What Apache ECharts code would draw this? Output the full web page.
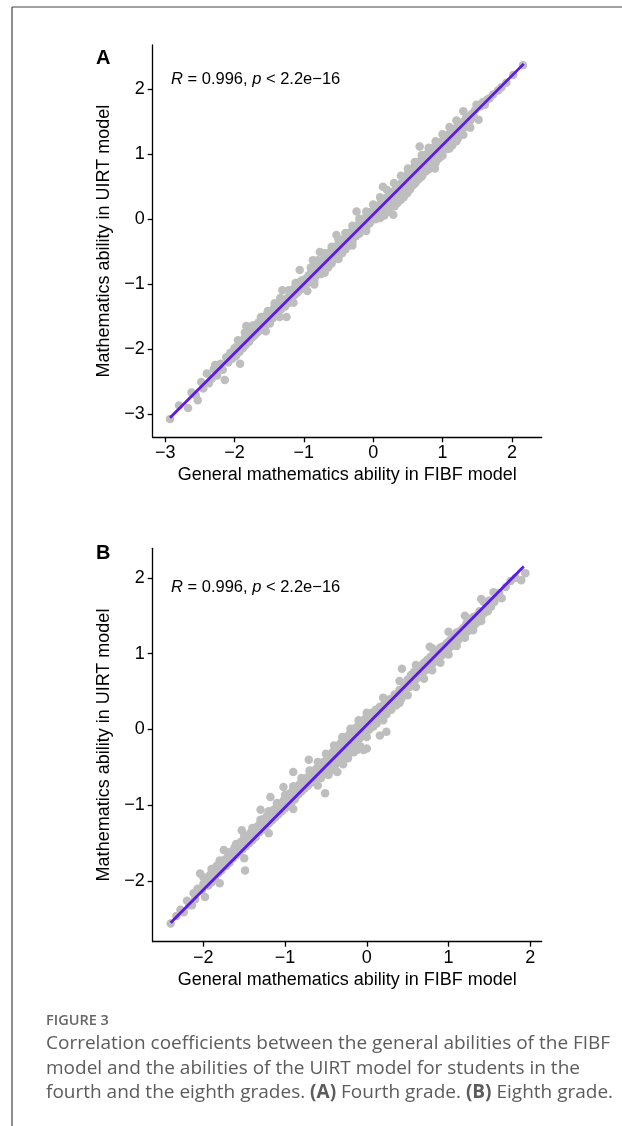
<!DOCTYPE html>
<html>
<head>
<meta charset="utf-8">
<script src="https://cdn.jsdelivr.net/npm/echarts@6/dist/echarts.min.js"></script>
<style>
html,body{margin:0;padding:0;background:#fff;}
#chart{width:622px;height:1126px;}
</style>
</head>
<body>
<div id="chart"></div>
<script>
// ---------- data ----------
const xTicksA = [-3, -2, -1, 0, 1, 2];
const yTicksA = [-3, -2, -1, 0, 1, 2];
const xTicksB = [-2, -1, 0, 1, 2];
const yTicksB = [-2, -1, 0, 1, 2];

const xTitle = 'General mathematics ability in FIBF model';
const yTitle = 'Mathematics ability in UIRT model';

// regression line end points
const fitA = [[-2.93, -3.05], [2.17, 2.39]];
const fitB = [[-2.40, -2.55], [1.92, 2.15]];

// Panel A: fourth grade (FIBF general ability, UIRT ability)
const pointsA = [
[-2.93,-3.07],[-2.80,-2.86],[-2.67,-2.90],[-2.62,-2.66],[-2.56,-2.70],[-2.53,-2.78],[-2.48,-2.50],[-2.45,-2.60],
[-2.40,-2.37],[-2.37,-2.52],[-2.33,-2.45],[-2.30,-2.30],[-2.28,-2.24],[-2.25,-2.40],[-2.20,-2.22],[-2.17,-2.31],
[-2.14,-2.47],[-2.12,-2.12],[-2.09,-2.20],[-2.06,-2.05],[-2.03,-2.14],[-2.00,-1.98],
[-1.98,-2.10],[-1.96,-1.95],[-1.93,-2.04],[-1.92,-2.22],[-1.90,-1.88],[-1.88,-1.98],[-1.86,-1.83],[-1.84,-1.93],
[-1.83,-1.64],[-1.81,-1.78],[-1.79,-1.88],[-1.77,-1.72],[-1.75,-1.82],[-1.73,-1.68],[-1.71,-1.78],[-1.69,-1.62],
[-1.67,-1.74],[-1.65,-1.58],[-1.63,-1.70],[-1.61,-1.55],[-1.59,-1.64],[-1.57,-1.50],[-1.55,-1.62],[-1.53,-1.46],
[-1.51,-1.57],[-1.49,-1.60],[-1.47,-1.42],[-1.45,-1.52],[-1.43,-1.36],[-1.41,-1.46],[-1.39,-1.33],[-1.37,-1.44],
[-1.35,-1.30],[-1.33,-1.38],[-1.31,-1.09],[-1.29,-1.24],[-1.27,-1.34],[-1.25,-1.50],[-1.23,-1.20],[-1.21,-1.28],
[-1.19,-1.12],[-1.17,-1.22],[-1.15,-1.07],[-1.13,-1.16],[-1.11,-1.03],[-1.09,-1.12],[-1.07,-0.97],[-1.06,-0.78],
[-1.05,-1.08],[-1.03,-0.94],[-1.01,-1.02],
[-0.99,-0.93],[-0.98,-1.04],[-0.96,-0.90],[-0.95,-0.98],[-0.95,-1.10],[-0.93,-0.86],[-0.92,-0.95],[-0.90,-0.82],
[-0.89,-0.92],[-0.87,-0.63],[-0.86,-0.85],[-0.85,-0.96],[-0.84,-0.76],[-0.83,-0.88],[-0.81,-0.72],[-0.80,-0.81],
[-0.78,-0.68],[-0.77,-0.50],[-0.76,-0.78],[-0.75,-0.84],[-0.74,-0.64],[-0.73,-0.74],[-0.71,-0.60],[-0.70,-0.70],
[-0.68,-0.57],[-0.67,-0.66],[-0.65,-0.52],[-0.65,-0.74],[-0.64,-0.62],[-0.62,-0.50],[-0.61,-0.59],[-0.60,-0.68],
[-0.59,-0.46],[-0.58,-0.56],[-0.56,-0.43],[-0.55,-0.53],[-0.55,-0.60],[-0.53,-0.24],[-0.52,-0.48],[-0.50,-0.38],
[-0.49,-0.46],[-0.47,-0.35],[-0.46,-0.44],[-0.45,-0.52],[-0.44,-0.32],[-0.43,-0.40],[-0.41,-0.29],[-0.40,-0.37],
[-0.40,-0.46],[-0.38,-0.26],[-0.37,-0.33],[-0.35,-0.22],[-0.35,-0.40],[-0.34,-0.30],[-0.32,-0.19],[-0.31,-0.27],
[-0.30,-0.34],[-0.29,-0.15],[-0.28,-0.24],[-0.26,-0.12],[-0.25,-0.21],[-0.25,-0.26],[-0.24,0.12],[-0.23,-0.10],
[-0.21,-0.18],[-0.20,-0.06],[-0.20,-0.22],[-0.18,-0.14],[-0.17,-0.02],[-0.15,-0.11],[-0.15,-0.15],[-0.14,0.00],
[-0.12,-0.08],[-0.11,0.03],[-0.10,-0.12],[-0.09,-0.04],[-0.08,0.06],[-0.06,-0.01],[-0.05,0.10],[-0.05,-0.06],
[-0.03,0.02],[-0.02,0.12],[0.00,0.05],
[0.02,0.14],[0.03,0.00],[0.05,0.20],[0.06,0.06],[0.08,0.15],[0.09,0.02],[0.11,0.25],[0.12,0.10],
[0.14,0.50],[0.14,0.18],[0.16,0.06],[0.17,0.28],[0.19,0.17],[0.20,0.34],[0.21,0.22],[0.23,0.12],
[0.24,0.36],[0.26,0.22],[0.27,0.42],[0.29,0.07],[0.29,0.30],[0.31,0.20],[0.32,0.45],[0.34,0.35],
[0.35,0.25],[0.37,0.52],[0.38,0.40],[0.40,0.30],[0.41,0.56],[0.43,0.44],[0.44,0.34],[0.46,0.62],
[0.47,0.50],[0.49,0.40],[0.50,0.70],[0.51,0.58],[0.53,0.46],[0.54,0.74],[0.56,0.62],[0.57,0.52],
[0.59,0.80],[0.60,0.68],[0.62,0.58],[0.63,0.84],[0.65,0.74],[0.66,0.62],[0.67,1.12],[0.68,0.90],
[0.70,0.80],[0.71,0.68],[0.73,0.96],[0.74,0.84],[0.76,0.74],[0.77,1.00],[0.79,0.90],[0.80,0.80],
[0.82,1.06],[0.83,0.94],[0.85,0.84],[0.86,1.10],[0.88,0.98],[0.89,0.78],[0.90,0.90],[0.92,1.14],
[0.93,1.02],[0.95,0.94],[0.96,1.18],[0.98,1.08],[0.99,0.98],
[1.01,1.22],[1.02,1.10],[1.04,1.28],[1.05,1.16],[1.07,1.08],[1.08,1.30],[1.10,1.20],[1.11,1.32],
[1.13,1.22],[1.14,1.14],[1.16,1.36],[1.17,1.26],[1.19,1.40],[1.20,1.30],[1.22,1.24],[1.24,1.44],
[1.25,1.36],[1.27,1.48],[1.28,1.38],[1.30,1.66],[1.30,1.50],[1.32,1.42],[1.34,1.56],[1.36,1.46],
[1.38,1.58],[1.40,1.52],[1.42,1.62],[1.45,1.58],[1.47,1.68],[1.49,1.76],[1.52,1.53],[1.55,1.74],
[1.58,1.80],[1.61,1.76],[1.64,1.84],[1.68,1.86],[1.73,1.92],[1.80,1.98],[1.85,2.03],[1.92,2.10],
[2.02,2.22],[2.16,2.37],
[-1.95,-1.86],[-1.85,-1.74],[-1.74,-1.63],[-1.62,-1.50],[-1.52,-1.41],[-1.42,-1.29],[-1.34,-1.21],[-1.22,-1.09],
[-1.12,-0.98],[-1.55,-1.72],[-1.35,-1.50],[-1.15,-1.28],
[-0.90,-0.74],[-0.80,-0.63],[-0.70,-0.52],[-0.60,-0.42],[-0.50,-0.31],[-0.40,-0.21],[-0.30,-0.10],[-0.20,0.01],
[-0.10,0.12],[0.00,0.23],[-0.85,-1.00],[-0.70,-0.82],[-0.50,-0.61],[-0.30,-0.40],[-0.10,-0.18],
[0.10,0.34],[0.20,0.45],[0.30,0.56],[0.40,0.67],[0.50,0.78],[0.60,0.88],[0.70,0.99],[0.80,1.10],
[0.90,1.20],[1.00,1.31],[1.10,1.42],[1.20,1.52],[0.10,0.02],[0.20,0.13],[0.30,0.23],[0.40,0.34],
[0.50,0.45],[0.60,0.55],[0.70,0.66],[0.80,0.77],[0.90,0.87],[1.00,0.98],[1.10,1.09],[1.20,1.20],
[1.30,1.30],[1.40,1.41]
];

// Panel B: eighth grade
const pointsB = [
[-2.40,-2.56],[-2.33,-2.46],[-2.28,-2.38],[-2.24,-2.41],[-2.20,-2.26],[-2.17,-2.32],[-2.14,-2.32],[-2.12,-2.16],
[-2.10,-2.24],[-2.07,-2.10],[-2.04,-1.90],[-2.02,-2.12],[-2.00,-2.04],[-1.98,-2.21],[-1.96,-1.98],[-1.94,-2.06],
[-1.92,-1.92],[-1.90,-2.02],[-1.88,-1.86],[-1.86,-1.96],[-1.84,-1.80],[-1.82,-1.90],[-1.80,-1.76],[-1.78,-1.86],
[-1.75,-1.59],[-1.74,-1.72],[-1.72,-1.80],[-1.70,-1.68],[-1.68,-1.76],[-1.66,-1.62],[-1.64,-1.70],[-1.62,-1.56],
[-1.60,-1.66],[-1.58,-1.52],[-1.56,-1.62],[-1.54,-1.48],[-1.53,-1.33],[-1.52,-1.58],[-1.50,-1.44],[-1.49,-1.86],
[-1.48,-1.54],[-1.46,-1.40],[-1.44,-1.50],[-1.42,-1.36],[-1.40,-1.46],[-1.38,-1.32],[-1.36,-1.42],[-1.34,-1.28],
[-1.32,-1.36],[-1.30,-1.06],[-1.30,-1.22],[-1.28,-1.32],[-1.26,-1.18],[-1.24,-1.28],[-1.22,-1.14],[-1.20,-1.24],
[-1.18,-0.89],[-1.18,-1.10],[-1.16,-1.20],[-1.14,-1.06],[-1.12,-1.16],[-1.10,-1.02],[-1.08,-1.12],[-1.06,-0.98],
[-1.04,-1.08],[-1.02,-0.76],[-1.02,-0.94],[-1.00,-1.04],[-0.98,-0.90],[-0.96,-1.00],[-0.94,-0.84],[-0.92,-0.96],
[-0.90,-0.56],[-0.90,-0.80],[-0.88,-0.92],[-0.86,-0.76],[-0.84,-0.86],[-0.82,-0.72],[-0.80,-0.82],[-0.78,-0.68],
[-0.76,-0.78],[-0.74,-0.64],[-0.72,-0.74],[-0.71,-0.40],[-0.70,-0.60],[-0.68,-0.70],[-0.66,-0.56],[-0.64,-0.66],
[-0.62,-0.52],[-0.60,-0.62],[-0.58,-0.48],[-0.56,-0.64],[-0.55,-0.44],[-0.53,-0.56],[-0.51,-0.84],[-0.51,-0.42],
[-0.49,-0.50],[-0.48,-0.38],[-0.47,-0.60],[-0.46,-0.44],[-0.45,-0.34],[-0.44,-0.54],[-0.43,-0.40],[-0.42,-0.30],
[-0.41,-0.50],[-0.40,-0.36],[-0.39,-0.26],[-0.38,-0.46],[-0.37,-0.32],[-0.36,-0.56],[-0.35,-0.22],[-0.34,-0.40],
[-0.33,-0.28],[-0.32,-0.18],[-0.31,-0.36],[-0.30,-0.24],[-0.29,-0.46],[-0.28,-0.14],[-0.27,-0.32],[-0.26,-0.20],
[-0.25,-0.10],[-0.24,-0.28],[-0.23,-0.38],[-0.22,-0.16],[-0.21,-0.06],[-0.20,-0.24],[-0.19,-0.12],[-0.18,-0.02],
[-0.17,-0.20],[-0.16,-0.30],[-0.15,-0.08],[-0.14,0.02],[-0.13,-0.16],[-0.12,-0.27],[-0.11,-0.04],[-0.10,0.06],
[-0.09,-0.12],[-0.08,-0.22],[-0.07,0.00],[-0.06,0.10],[-0.05,-0.08],[-0.04,-0.27],[-0.03,0.04],[-0.02,0.14],
[-0.01,-0.04],[0.00,-0.25],[0.01,0.08],[0.02,0.18],[0.03,0.00],[0.05,0.12],[0.06,0.22],[0.08,0.04],
[0.09,0.16],[0.11,0.26],[0.12,0.08],[0.14,0.20],[0.16,-0.08],[0.16,0.30],[0.18,0.14],[0.20,0.26],
[0.22,0.36],[0.24,-0.03],[0.24,0.20],[0.26,0.30],[0.28,0.40],[0.30,0.26],[0.32,0.36],[0.34,0.46],
[0.36,0.32],[0.38,0.42],[0.40,0.52],[0.42,0.40],[0.43,0.80],[0.44,0.50],[0.46,0.58],[0.48,0.46],
[0.50,0.66],[0.52,0.56],[0.54,0.72],[0.56,0.62],[0.58,0.76],[0.60,0.66],[0.62,0.80],[0.64,0.70],
[0.66,0.84],[0.68,0.74],[0.70,0.88],[0.72,0.78],[0.74,0.92],[0.76,0.82],[0.77,1.09],[0.78,0.96],
[0.80,0.86],[0.82,1.00],[0.84,0.90],[0.86,1.04],[0.88,0.94],[0.90,1.08],[0.92,0.98],[0.94,1.10],
[0.96,1.02],[0.98,1.14],[1.00,1.06],[1.02,1.18],[1.04,1.10],[1.06,1.22],[1.08,1.14],[1.10,1.28],
[1.12,1.18],[1.14,1.30],[1.16,1.22],[1.18,1.34],[1.20,1.26],[1.22,1.40],[1.24,1.30],[1.26,1.42],
[1.28,1.34],[1.30,1.48],[1.32,1.38],[1.34,1.50],[1.36,1.42],[1.38,1.56],[1.40,1.48],[1.43,1.68],
[1.44,1.54],[1.46,1.62],[1.48,1.56],[1.50,1.70],[1.52,1.62],[1.55,1.81],[1.56,1.68],[1.59,1.76],
[1.62,1.80],[1.65,1.73],[1.70,1.88],[1.76,1.96],[1.82,2.00],[1.89,1.97],[1.94,2.06],
[-2.00,-1.95],[-1.90,-1.84],[-1.80,-1.73],[-1.70,-1.62],[-1.60,-1.51],[-1.50,-1.40],[-1.40,-1.30],[-1.30,-1.19],
[-1.20,-1.08],[-1.10,-0.97],[-1.00,-0.86],[-0.90,-0.75],[-0.80,-0.64],[-0.70,-0.54],[-0.60,-0.43],[-0.50,-0.32],
[-0.40,-0.21],[-0.30,-0.10],[-0.20,0.01],[-0.10,0.12],[0.00,0.22],
[-1.80,-2.03],[-1.50,-1.70],[-1.20,-1.37],[-0.90,-1.05],[-0.60,-0.74],[-0.40,-0.52],[-0.20,-0.30],[0.00,-0.10],
[0.20,0.12],[0.40,0.35],[0.60,0.56],[0.80,0.78],[1.00,0.99],[1.20,1.21],[1.40,1.43],[1.30,1.31],
[1.10,1.10],[0.90,0.88],[0.70,0.67],[0.50,0.45],
[0.20,0.42],[0.40,0.64],[0.60,0.85],[0.80,1.07],[1.00,1.29],[1.20,1.50],[1.40,1.72]
];

const captionHead = 'FIGURE 3';
const captionLines = [
  'Correlation coefficients between the general abilities of the FIBF',
  'model and the abilities of the UIRT model for students in the',
  'fourth and the eighth grades. {b|(A)} Fourth grade. {b|(B)} Eighth grade.'
];

// ---------- chart ----------
const FONT = '"Liberation Sans", Arial, sans-serif';
const fmt = v => String(v).replace('-', '\u2212');

function xAxisCfg(grid, min, max, ticks) {
  return {
    type: 'value', gridIndex: grid, min: min, max: max,
    name: xTitle, nameLocation: 'middle', nameGap: 29,
    nameTextStyle: { fontFamily: FONT, fontSize: 18, color: '#000' },
    axisLine: { show: true, onZero: false, lineStyle: { color: '#000', width: 1.3 } },
    axisTick: { show: true, length: 5, customValues: ticks, lineStyle: { color: '#000', width: 1.3 } },
    axisLabel: { customValues: ticks, formatter: fmt, margin: 7, fontFamily: FONT, fontSize: 18, color: '#000' },
    splitLine: { show: false }
  };
}
function yAxisCfg(grid, min, max, ticks) {
  return {
    type: 'value', gridIndex: grid, min: min, max: max,
    name: yTitle, nameLocation: 'middle', nameGap: 31,
    nameTextStyle: { fontFamily: FONT, fontSize: 18, color: '#000' },
    axisLine: { show: true, onZero: false, lineStyle: { color: '#000', width: 1.3 } },
    axisTick: { show: true, length: 5, customValues: ticks, lineStyle: { color: '#000', width: 1.3 } },
    axisLabel: { customValues: ticks, formatter: fmt, margin: 8, fontFamily: FONT, fontSize: 18, color: '#000' },
    splitLine: { show: false }
  };
}

const chart = echarts.init(document.getElementById('chart'), null, { renderer: 'canvas' });

function statText(y) {
  return {
    type: 'text', x: 171, y: y,
    style: {
      text: '{i|R} = 0.996, {i|p} < 2.2e\u221216',
      rich: { i: { fontStyle: 'italic', fontFamily: FONT, fontSize: 16.5, fill: '#000' } },
      fontFamily: FONT, fontSize: 16.5, fill: '#000',
      textAlign: 'left', textVerticalAlign: 'middle', align: 'left', verticalAlign: 'middle'
    }
  };
}
function letter(t, y) {
  return {
    type: 'text', x: 96, y: y,
    style: { text: t, fontFamily: FONT, fontSize: 20, fontWeight: 'bold', fill: '#000',
      textAlign: 'left', textVerticalAlign: 'middle', align: 'left', verticalAlign: 'middle' }
  };
}
const CAP_FONT = '"Open Sans", "Noto Sans", sans-serif';
const graphics = [
  { type: 'line', shape: { x1: 12, y1: 7, x2: 622, y2: 7 }, style: { stroke: '#444', lineWidth: 1.2 } },
  { type: 'line', shape: { x1: 12, y1: 7, x2: 12, y2: 1126 }, style: { stroke: '#444', lineWidth: 1.2 } },
  letter('A', 58), letter('B', 553),
  statText(79), statText(587),
  { type: 'text', x: 46, y: 1021,
    style: { text: captionHead, fontFamily: CAP_FONT, fontSize: 14.5, fontWeight: 600, fill: '#666',
      textAlign: 'left', textVerticalAlign: 'middle', align: 'left', verticalAlign: 'middle' } }
];
captionLines.forEach((t, i) => {
  graphics.push({
    type: 'text', x: 46, y: 1044 + i * 24.5,
    style: {
      text: t, fontFamily: CAP_FONT, fontSize: 19, fill: '#5c5c5c',
      rich: { b: { fontFamily: CAP_FONT, fontSize: 19, fontWeight: 'bold', fill: '#5c5c5c' } },
      textAlign: 'left', textVerticalAlign: 'middle', align: 'left', verticalAlign: 'middle'
    }
  });
});

chart.setOption({
  animation: false,
  backgroundColor: '#fff',
  grid: [
    { left: 152.7, top: 45, width: 389, height: 392.3, containLabel: false, outerBoundsMode: 'none' },
    { left: 152.7, top: 548.3, width: 389, height: 393.4, containLabel: false, outerBoundsMode: 'none' }
  ],
  xAxis: [ xAxisCfg(0, -3.18, 2.43, xTicksA), xAxisCfg(1, -2.62, 2.14, xTicksB) ],
  yAxis: [ yAxisCfg(0, -3.35, 2.68, yTicksA), yAxisCfg(1, -2.80, 2.39, yTicksB) ],
  series: [
    { type: 'scatter', xAxisIndex: 0, yAxisIndex: 0, data: pointsA, symbolSize: 8.5,
      itemStyle: { color: '#BEBEBE', opacity: 1 }, z: 2 },
    { type: 'line', xAxisIndex: 0, yAxisIndex: 0, data: fitA, symbol: 'none',
      lineStyle: { color: '#5A17EE', width: 2.8 }, z: 3 },
    { type: 'scatter', xAxisIndex: 1, yAxisIndex: 1, data: pointsB, symbolSize: 8.5,
      itemStyle: { color: '#BEBEBE', opacity: 1 }, z: 2 },
    { type: 'line', xAxisIndex: 1, yAxisIndex: 1, data: fitB, symbol: 'none',
      lineStyle: { color: '#5A17EE', width: 2.8 }, z: 3 }
  ],
  graphic: graphics
});
</script>
</body>
</html>
